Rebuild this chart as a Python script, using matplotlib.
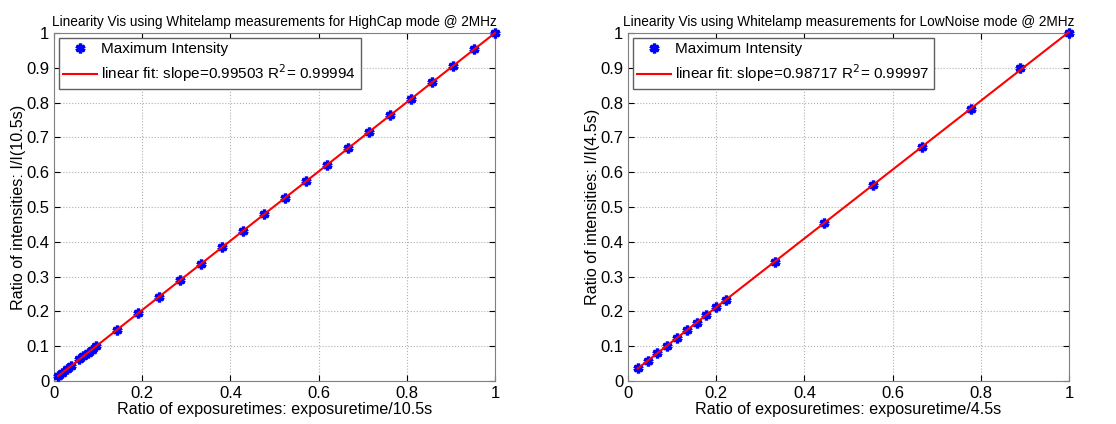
import numpy as np
import matplotlib
matplotlib.use('Agg')
import matplotlib.pyplot as plt
from matplotlib.ticker import FormatStrFormatter

plt.rcParams['font.family'] = ['Liberation Sans', 'DejaVu Sans']

# HighCap mode, exposure ratios t/10.5s and intensity ratios I/I(10.5s)
hc_x = [0.0095, 0.019, 0.0286, 0.0381, 0.0571, 0.0667, 0.0762, 0.0857, 0.0952,
        0.1429, 0.1905, 0.2381, 0.2857, 0.3333, 0.381, 0.4286, 0.4762, 0.5238,
        0.5714, 0.619, 0.6667, 0.7143, 0.7619, 0.8095, 0.8571, 0.9048, 0.9524, 1.0]
hc_y = [0.0145, 0.0239, 0.0335, 0.0429, 0.0618, 0.0714, 0.0808, 0.0903, 0.0997,
        0.147, 0.1945, 0.2419, 0.2893, 0.3367, 0.3841, 0.4315, 0.4789, 0.5262,
        0.5736, 0.621, 0.6684, 0.7158, 0.7632, 0.8105, 0.8578, 0.9053, 0.9527, 1.0]

# LowNoise mode, exposure ratios t/4.5s and intensity ratios I/I(4.5s)
ln_x = [0.0222, 0.0444, 0.0667, 0.0889, 0.1111, 0.1333, 0.1556, 0.1778, 0.2,
        0.2222, 0.3333, 0.4444, 0.5556, 0.6667, 0.7778, 0.8889, 1.0]
ln_y = [0.036, 0.058, 0.08, 0.102, 0.124, 0.146, 0.168, 0.19, 0.212,
        0.233, 0.343, 0.455, 0.562, 0.673, 0.781, 0.899, 1.0]

panels = [
    (hc_x, hc_y, 'HighCap', '10.5s', '0.99503', '0.99994', 54),
    (ln_x, ln_y, 'LowNoise', '4.5s', '0.98717', '0.99997', 628),
]

fig = plt.figure(figsize=(11.16, 4.24), dpi=100)

for x, y, mode, ref, slope, r2, left in panels:
    ax = fig.add_axes([left / 1116, 43 / 424, 441 / 1116, 348 / 424])
    x = np.array(x)
    y = np.array(y)
    p = np.polyfit(x, y, 1)

    ax.plot(x, y, linestyle='none', marker=(6, 2, 0), markersize=7,
            markeredgewidth=2.4, color='blue', label='Maximum Intensity',
            clip_on=False, zorder=3)
    ax.plot(x, np.polyval(p, x), color='red', linewidth=1.5,
            label='linear fit: slope=%s R$^2$= %s' % (slope, r2),
            clip_on=False, zorder=4)

    ax.set_xlim(0, 1)
    ax.set_ylim(0, 1)
    ax.set_xticks(np.arange(0, 1.01, 0.2))
    ax.set_yticks(np.arange(0, 1.01, 0.1))
    ax.xaxis.set_major_formatter(FormatStrFormatter('%g'))
    ax.yaxis.set_major_formatter(FormatStrFormatter('%g'))
    ax.tick_params(direction='in', labelsize=12, length=4, top=True, right=True)
    ax.grid(True, linestyle=':', color='#b0b0b0', linewidth=0.8)
    for s in ax.spines.values():
        s.set_color('#808080')

    ax.set_title('Linearity Vis using Whitelamp measurements for %s mode @ 2MHz' % mode,
                 fontsize=9.8, pad=5)
    ax.set_xlabel('Ratio of exposuretimes: exposuretime/%s' % ref, fontsize=11.6, labelpad=1)
    ax.set_ylabel('Ratio of intensities: I/I(%s)' % ref, fontsize=11.6, labelpad=0)

    leg = ax.legend(loc='upper left', fontsize=11, fancybox=False, framealpha=1,
                    borderaxespad=0.3, handlelength=2.2, handletextpad=0.3,
                    borderpad=0.3, labelspacing=0.4)
    leg.get_frame().set_edgecolor('#606060')
    leg.set_zorder(5)

fig.savefig('out.png', dpi=100)
